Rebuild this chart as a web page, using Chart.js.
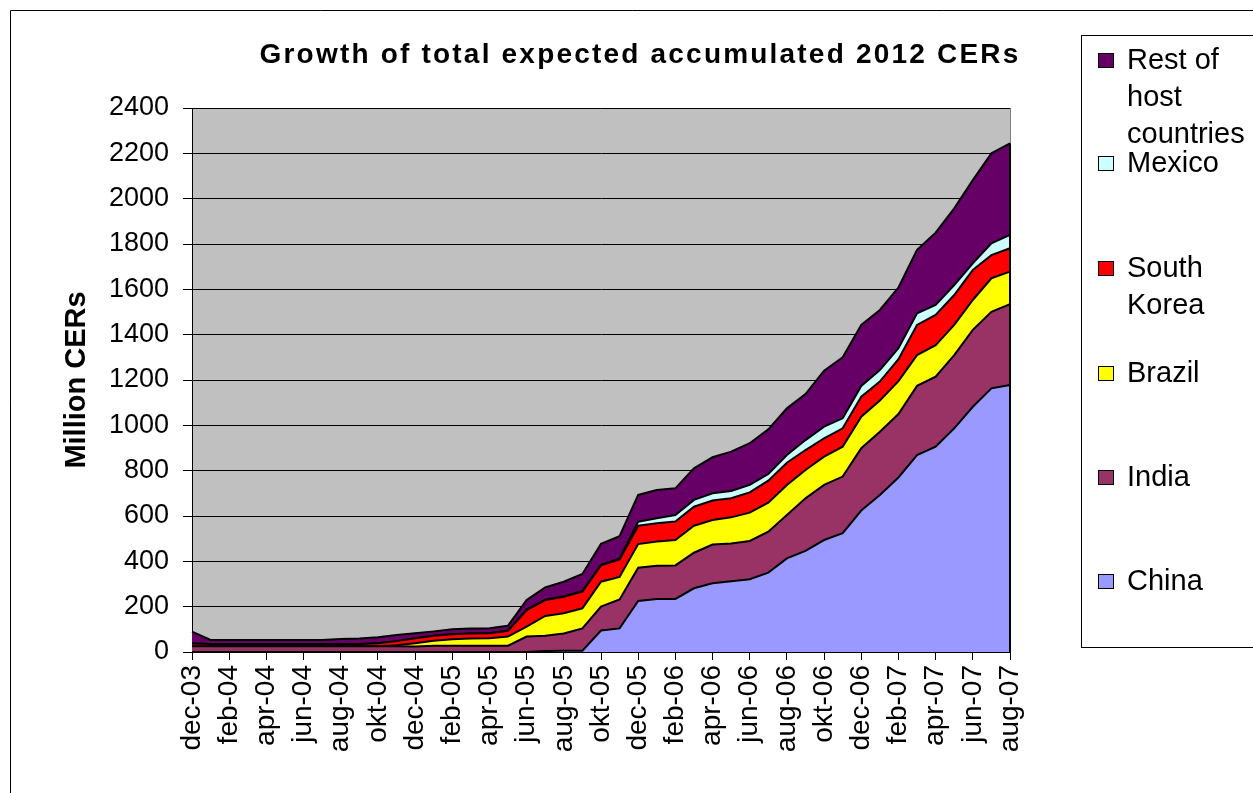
<!DOCTYPE html>
<html><head><meta charset="utf-8">
<script src="https://cdn.jsdelivr.net/npm/chart.js@4.4.1/dist/chart.umd.min.js"></script>
<style>html,body{margin:0;padding:0;background:#fff;overflow:hidden}#wrap{width:1253px;height:793px;position:relative}</style>
</head><body><div id="wrap"><canvas id="c" width="1253" height="793"></canvas></div>
<script>
const months = ['dec-03','jan-04','feb-04','mar-04','apr-04','maj-04','jun-04','jul-04','aug-04','sep-04','okt-04','nov-04',
  'dec-04','jan-05','feb-05','mar-05','apr-05','maj-05','jun-05','jul-05','aug-05','sep-05','okt-05','nov-05',
  'dec-05','jan-06','feb-06','mar-06','apr-06','maj-06','jun-06','jul-06','aug-06','sep-06','okt-06','nov-06',
  'dec-06','jan-07','feb-07','mar-07','apr-07','maj-07','jun-07','jul-07','aug-07'];

const china = [0,0,0,0,0,0,0,0,0,0,
  0,0,0,0,0,0,0,0,0,4,
  6,6,95,104,225,234,234,281,303,312,
  321,350,413,446,494,524,624,693,770,869,
  906,987,1082,1163,1178];
const india = [25,25,25,25,25,25,25,25,25,25,
  25,25,24,28,28,28,28,28,68,68,
  76,98,105,128,147,147,148,157,171,167,
  169,181,191,232,243,250,275,279,280,305,
  309,323,339,338,357];
const brazil = [0,0,0,0,0,0,0,0,0,0,
  0,5,15,22,28,32,33,40,44,87,
  89,89,110,99,104,107,112,119,108,115,
  125,128,133,125,125,132,139,137,145,136,
  139,133,132,148,143];
const southKorea = [12,10,10,10,10,10,10,10,10,10,
  14,18,22,22,22,22,22,26,73,70,
  73,73,72,77,81,80,82,84,86,84,
  89,97,98,88,81,81,88,84,97,133,
  133,132,132,102,103];
const mexico = [0,0,0,0,0,0,0,0,0,0,
  0,0,0,0,0,0,0,0,2,2,
  2,2,3,4,18,22,28,30,32,32,
  33,29,34,44,51,44,48,51,48,51,
  44,44,30,52,59];
const restOfHost = [53,18,18,18,18,18,18,18,22,25,
  26,27,22,19,22,22,22,22,42,54,
  64,76,92,99,118,125,118,139,159,174,
  184,197,206,203,247,269,269,265,268,280,
  319,338,367,397,404];

const seriesNames = ['China','India','Brazil','South Korea','Mexico','Rest of host countries'];
const seriesColors = ['#9999FF','#993366','#FFFF00','#FF0000','#CCFFFF','#660066'];
const seriesData = [china, india, brazil, southKorea, mexico, restOfHost];
const legendLines = [['Rest of','host','countries'],['Mexico'],['South','Korea'],['Brazil'],['India'],['China']];
const titleText = 'Growth of total expected accumulated 2012 CERs';
const yTitleText = 'Million CERs';

const FONT = '"Liberation Sans", Arial, sans-serif';

const decor = {
  id: 'decor',
  beforeDraw(chart) {
    const {ctx, chartArea: a} = chart;
    ctx.save();
    ctx.fillStyle = '#fff';
    ctx.fillRect(0, 0, chart.width, chart.height);
    ctx.fillStyle = '#C0C0C0';
    ctx.fillRect(a.left, a.top, a.right - a.left, a.bottom - a.top);
    ctx.restore();
  },
  afterDraw(chart) {
    const {ctx, chartArea: a} = chart;
    ctx.save();
    // outer frame
    ctx.strokeStyle = '#000'; ctx.lineWidth = 1;
    ctx.beginPath(); ctx.moveTo(10.5, 800); ctx.lineTo(10.5, 10.5); ctx.lineTo(1300, 10.5); ctx.stroke();
    // plot area right border (gray above, black along area edge)
    const yTop = chart.scales.y.getPixelForValue(
      seriesData.reduce((s, d) => s + d[d.length - 1], 0));
    ctx.strokeStyle = '#808080';
    ctx.beginPath(); ctx.moveTo(a.right + 0.5, a.top); ctx.lineTo(a.right + 0.5, yTop); ctx.stroke();
    ctx.strokeStyle = '#000'; ctx.lineWidth = 2;
    ctx.beginPath(); ctx.moveTo(a.right, yTop); ctx.lineTo(a.right, a.bottom); ctx.stroke();
    // title
    ctx.fillStyle = '#000';
    ctx.font = 'bold 28px ' + FONT;
    ctx.textAlign = 'center'; ctx.textBaseline = 'middle';
    try { ctx.letterSpacing = '2.2px'; } catch (e) {}
    ctx.fillText(titleText, 640, 55);
    try { ctx.letterSpacing = '0px'; } catch (e) {}
    // legend
    ctx.lineWidth = 1; ctx.strokeStyle = '#000';
    ctx.strokeRect(1081.5, 35.5, 300, 612);
    const starts = [60, 163, 268, 373, 477, 581];
    ctx.font = '29px ' + FONT;
    ctx.textAlign = 'left';
    legendLines.forEach((lines, k) => {
      const si = seriesNames.length - 1 - k;
      const y0 = starts[k];
      ctx.fillStyle = seriesColors[si];
      ctx.fillRect(1098, y0 - 7, 16, 15);
      ctx.strokeRect(1098.5, y0 - 6.5, 15, 14);
      ctx.fillStyle = '#000';
      lines.forEach((t, j) => ctx.fillText(t, 1127, y0 + 1 + j * 37));
    });
    ctx.restore();
  }
};

new Chart(document.getElementById('c'), {
  type: 'line',
  data: {
    labels: months,
    datasets: seriesData.map((d, i) => ({
      label: seriesNames[i], data: d,
      backgroundColor: seriesColors[i], borderColor: '#000', borderWidth: 2,
      pointRadius: 0, tension: 0, fill: i === 0 ? 'origin' : '-1'
    }))
  },
  options: {
    responsive: false, animation: false, devicePixelRatio: 1,
    layout: {padding: {left: 0, top: 108, right: 243, bottom: 0}},
    plugins: {legend: {display: false}, tooltip: {enabled: false}, title: {display: false}},
    scales: {
      x: {
        type: 'category', offset: false,
        afterFit(s) { s.height = 141; },
        grid: {drawOnChartArea: false, drawTicks: true, tickLength: 8,
          tickColor: c => (c.index % 2 === 0 ? '#000' : 'rgba(0,0,0,0)')},
        border: {color: '#000', width: 1},
        ticks: {autoSkip: false, maxRotation: 90, minRotation: 90, padding: 5, color: '#000',
          font: {family: FONT, size: 28},
          callback(v, i) { return i % 2 === 0 ? this.getLabelForValue(v) : ''; }}
      },
      y: {
        stacked: true, min: 0, max: 2400,
        afterFit(s) { s.width = 192; },
        ticks: {stepSize: 200, color: '#000', padding: 14, font: {family: FONT, size: 27},
          callback(v) { return String(v); }},
        grid: {color: '#000', lineWidth: 1, tickLength: 9, drawTicks: true},
        border: {color: '#000', width: 1},
        title: {display: true, text: yTitleText, color: '#000',
          font: {family: FONT, size: 29, weight: 'bold'}, padding: {top: 60, bottom: 0}}
      }
    }
  },
  plugins: [decor]
});
</script></body></html>
